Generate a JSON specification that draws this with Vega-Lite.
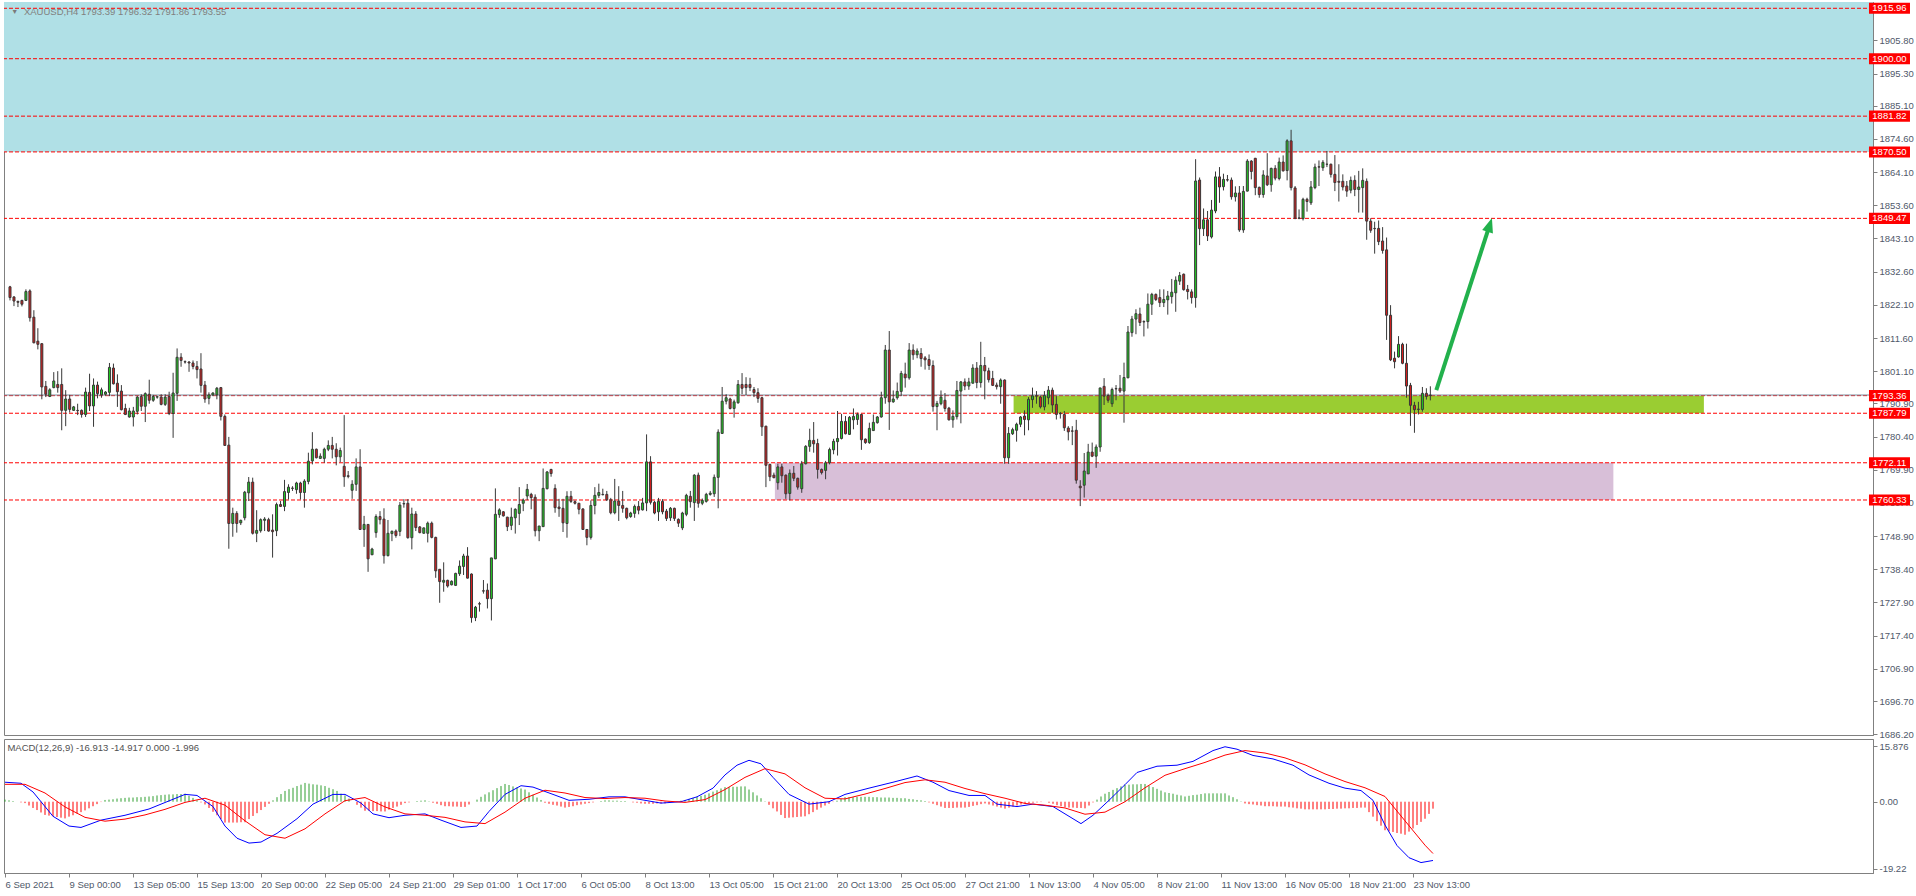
{
"$schema":"https://vega.github.io/schema/vega-lite/v6.json",
"background":"#ffffff",
"padding":{"left":2,"top":1,"right":0,"bottom":0},
"bounds":"flush",
"spacing":4,
"resolve":{"scale":{"x":"independent","y":"independent"}},
"config":{"font":"Liberation Sans","view":{"stroke":"#808080","strokeWidth":1},
"axis":{"labelFont":"Liberation Sans","labelFontSize":9.5,"labelColor":"#50596a","domainColor":"#808080","tickColor":"#808080","grid":false,"title":null,"tickSize":4,"labelPadding":2,"labelOverlap":false,"labelFlush":false},
"axisY":{"labelOverlap":false},"axisQuantitative":{"labelOverlap":false}},
"datasets":{
"levels":[{"p":1915.96},{"p":1900.00},{"p":1881.82},{"p":1870.50},{"p":1849.47},{"p":1793.36},{"p":1787.79},{"p":1772.11},{"p":1760.33}],
"mline":[{"i":0,"m":5.6},{"i":4,"m":5.3},{"i":7,"m":2.8},{"i":12,"m":-4.2},{"i":16,"m":-7.0},{"i":19,"m":-7.4},{"i":24,"m":-5.3},{"i":30,"m":-3.9},{"i":36,"m":-2.1},{"i":42,"m":0.7},{"i":45,"m":2.1},{"i":48,"m":1.8},{"i":52,"m":-1.4},{"i":55,"m":-7.0},{"i":58,"m":-10.5},{"i":61,"m":-11.9},{"i":64,"m":-11.6},{"i":68,"m":-9.1},{"i":73,"m":-4.9},{"i":77,"m":-0.7},{"i":82,"m":2.1},{"i":85,"m":2.1},{"i":89,"m":-0.4},{"i":92,"m":-3.5},{"i":96,"m":-4.6},{"i":100,"m":-3.9},{"i":105,"m":-3.5},{"i":109,"m":-5.3},{"i":114,"m":-7.4},{"i":118,"m":-7.0},{"i":121,"m":-2.8},{"i":125,"m":2.1},{"i":129,"m":4.6},{"i":132,"m":4.2},{"i":137,"m":2.1},{"i":141,"m":0.4},{"i":146,"m":0.7},{"i":151,"m":1.4},{"i":155,"m":1.4},{"i":160,"m":0.4},{"i":164,"m":-0.4},{"i":169,"m":0.0},{"i":173,"m":1.4},{"i":177,"m":3.9},{"i":180,"m":7.7},{"i":183,"m":10.5},{"i":186,"m":11.9},{"i":189,"m":10.9},{"i":192,"m":7.0},{"i":196,"m":2.1},{"i":201,"m":-0.7},{"i":206,"m":0.0},{"i":210,"m":2.1},{"i":216,"m":3.9},{"i":222,"m":5.6},{"i":228,"m":7.4},{"i":232,"m":5.6},{"i":236,"m":3.2},{"i":241,"m":1.8},{"i":245,"m":1.8},{"i":248,"m":-0.7},{"i":253,"m":-1.4},{"i":257,"m":-0.7},{"i":262,"m":-1.4},{"i":266,"m":-4.2},{"i":269,"m":-6.3},{"i":272,"m":-3.9},{"i":276,"m":0.4},{"i":280,"m":4.9},{"i":283,"m":8.4},{"i":288,"m":10.2},{"i":293,"m":10.5},{"i":297,"m":11.6},{"i":302,"m":14.7},{"i":305,"m":15.8},{"i":308,"m":15.1},{"i":312,"m":13.3},{"i":317,"m":12.3},{"i":322,"m":10.5},{"i":326,"m":7.7},{"i":331,"m":5.3},{"i":335,"m":3.9},{"i":339,"m":3.2},{"i":342,"m":0.4},{"i":345,"m":-6.7},{"i":348,"m":-12.6},{"i":351,"m":-16.1},{"i":354,"m":-17.5},{"i":357,"m":-16.9}],
"sline":[{"i":0,"s":5.0},{"i":5,"s":5.0},{"i":10,"s":2.5},{"i":15,"s":-1.5},{"i":20,"s":-4.5},{"i":25,"s":-5.6},{"i":30,"s":-5.0},{"i":35,"s":-3.8},{"i":40,"s":-2.2},{"i":45,"s":-0.2},{"i":50,"s":1.0},{"i":55,"s":-1.0},{"i":60,"s":-5.5},{"i":65,"s":-9.5},{"i":70,"s":-10.5},{"i":75,"s":-7.8},{"i":80,"s":-3.5},{"i":85,"s":0.3},{"i":90,"s":1.2},{"i":95,"s":-1.5},{"i":100,"s":-3.5},{"i":105,"s":-3.9},{"i":110,"s":-4.5},{"i":115,"s":-5.8},{"i":120,"s":-6.3},{"i":125,"s":-3.0},{"i":130,"s":1.0},{"i":135,"s":3.3},{"i":140,"s":2.5},{"i":145,"s":1.2},{"i":150,"s":0.9},{"i":155,"s":1.2},{"i":160,"s":1.0},{"i":165,"s":0.2},{"i":170,"s":-0.2},{"i":175,"s":0.6},{"i":180,"s":3.5},{"i":185,"s":7.0},{"i":190,"s":9.5},{"i":195,"s":8.0},{"i":200,"s":4.0},{"i":205,"s":1.0},{"i":210,"s":0.8},{"i":215,"s":2.2},{"i":220,"s":3.8},{"i":225,"s":5.5},{"i":230,"s":6.3},{"i":235,"s":5.6},{"i":240,"s":3.8},{"i":245,"s":2.3},{"i":250,"s":1.0},{"i":255,"s":-0.5},{"i":260,"s":-1.0},{"i":265,"s":-1.8},{"i":270,"s":-3.6},{"i":275,"s":-3.0},{"i":280,"s":0.0},{"i":285,"s":4.0},{"i":290,"s":7.6},{"i":295,"s":9.5},{"i":300,"s":11.3},{"i":305,"s":13.4},{"i":310,"s":14.7},{"i":315,"s":14.0},{"i":320,"s":12.6},{"i":325,"s":10.6},{"i":330,"s":8.0},{"i":335,"s":5.8},{"i":340,"s":4.0},{"i":345,"s":1.5},{"i":350,"s":-5.5},{"i":355,"s":-12.5},{"i":357,"s":-14.9}],
"bars":[
{"i":0,"o":1827.8,"h":1828.1,"l":1823.5,"c":1824.4,"d":0.6},
{"i":1,"o":1824.6,"h":1824.8,"l":1821.7,"c":1823.3,"d":0.4},
{"i":2,"o":1823.2,"h":1823.4,"l":1821.4,"c":1822.9,"d":0.2},
{"i":3,"o":1823.5,"h":1823.7,"l":1821.6,"c":1822.3,"d":0.0},
{"i":4,"o":1823.5,"h":1827.0,"l":1823.3,"c":1826.3,"d":-0.2},
{"i":5,"o":1826.5,"h":1827.0,"l":1816.8,"c":1818.0,"d":-0.4},
{"i":6,"o":1818.2,"h":1820.4,"l":1809.9,"c":1810.1,"d":-1.1},
{"i":7,"o":1810.6,"h":1814.7,"l":1808.0,"c":1809.6,"d":-1.8},
{"i":8,"o":1809.8,"h":1810.0,"l":1792.2,"c":1796.1,"d":-2.4},
{"i":9,"o":1796.3,"h":1798.0,"l":1792.9,"c":1793.8,"d":-3.1},
{"i":10,"o":1793.1,"h":1795.7,"l":1792.9,"c":1795.2,"d":-3.8},
{"i":11,"o":1795.9,"h":1800.8,"l":1795.7,"c":1798.0,"d":-4.0},
{"i":12,"o":1796.9,"h":1801.1,"l":1794.3,"c":1795.9,"d":-4.2},
{"i":13,"o":1796.9,"h":1802.0,"l":1782.4,"c":1788.7,"d":-4.4},
{"i":14,"o":1788.7,"h":1795.1,"l":1783.7,"c":1792.3,"d":-4.6},
{"i":15,"o":1792.3,"h":1793.6,"l":1788.0,"c":1789.0,"d":-4.8},
{"i":16,"o":1788.7,"h":1790.1,"l":1788.5,"c":1789.8,"d":-4.3},
{"i":17,"o":1788.7,"h":1790.8,"l":1787.2,"c":1788.6,"d":-3.9},
{"i":18,"o":1788.7,"h":1789.0,"l":1786.4,"c":1787.4,"d":-3.4},
{"i":19,"o":1787.4,"h":1795.9,"l":1786.6,"c":1794.5,"d":-3.0},
{"i":20,"o":1794.4,"h":1800.3,"l":1788.5,"c":1790.1,"d":-2.5},
{"i":21,"o":1790.1,"h":1798.8,"l":1783.5,"c":1796.7,"d":-1.9},
{"i":22,"o":1796.7,"h":1797.8,"l":1792.5,"c":1794.0,"d":-1.3},
{"i":23,"o":1793.6,"h":1795.9,"l":1792.7,"c":1795.2,"d":-0.7},
{"i":24,"o":1793.8,"h":1794.8,"l":1793.4,"c":1794.5,"d":-0.1},
{"i":25,"o":1794.4,"h":1803.7,"l":1793.2,"c":1802.3,"d":0.5},
{"i":26,"o":1802.1,"h":1803.5,"l":1796.9,"c":1797.1,"d":0.6},
{"i":27,"o":1797.3,"h":1800.1,"l":1789.8,"c":1794.6,"d":0.7},
{"i":28,"o":1794.8,"h":1796.7,"l":1788.7,"c":1788.9,"d":0.9},
{"i":29,"o":1789.3,"h":1790.8,"l":1787.2,"c":1787.4,"d":1.0},
{"i":30,"o":1786.6,"h":1789.5,"l":1786.4,"c":1788.5,"d":1.1},
{"i":31,"o":1786.6,"h":1789.8,"l":1783.6,"c":1788.5,"d":1.2},
{"i":32,"o":1788.4,"h":1793.3,"l":1787.4,"c":1792.9,"d":1.2},
{"i":33,"o":1793.1,"h":1793.8,"l":1788.5,"c":1790.0,"d":1.3},
{"i":34,"o":1790.0,"h":1794.4,"l":1785.0,"c":1794.0,"d":1.3},
{"i":35,"o":1793.8,"h":1798.4,"l":1790.8,"c":1791.9,"d":1.4},
{"i":36,"o":1791.9,"h":1793.6,"l":1791.4,"c":1793.1,"d":1.5},
{"i":37,"o":1792.9,"h":1793.3,"l":1792.4,"c":1793.0,"d":1.6},
{"i":38,"o":1792.9,"h":1793.8,"l":1790.3,"c":1790.6,"d":1.8},
{"i":39,"o":1790.6,"h":1793.8,"l":1790.1,"c":1792.9,"d":1.9},
{"i":40,"o":1793.1,"h":1794.6,"l":1787.2,"c":1787.7,"d":2.0},
{"i":41,"o":1787.7,"h":1800.6,"l":1780.0,"c":1794.2,"d":2.1},
{"i":42,"o":1794.1,"h":1808.3,"l":1791.7,"c":1805.5,"d":2.1},
{"i":43,"o":1805.5,"h":1806.8,"l":1802.5,"c":1804.5,"d":2.2},
{"i":44,"o":1804.1,"h":1804.5,"l":1803.5,"c":1804.0,"d":2.2},
{"i":45,"o":1804.0,"h":1804.3,"l":1800.9,"c":1803.7,"d":2.3},
{"i":46,"o":1803.7,"h":1804.5,"l":1801.7,"c":1802.6,"d":1.7},
{"i":47,"o":1802.6,"h":1804.3,"l":1798.8,"c":1801.6,"d":1.1},
{"i":48,"o":1801.8,"h":1806.8,"l":1794.3,"c":1796.6,"d":0.4},
{"i":49,"o":1796.7,"h":1798.0,"l":1791.1,"c":1792.3,"d":-0.2},
{"i":50,"o":1792.5,"h":1794.4,"l":1790.6,"c":1793.6,"d":-0.8},
{"i":51,"o":1793.6,"h":1794.4,"l":1793.2,"c":1794.2,"d":-1.8},
{"i":52,"o":1793.6,"h":1796.1,"l":1792.2,"c":1795.7,"d":-2.9},
{"i":53,"o":1795.9,"h":1796.1,"l":1785.5,"c":1786.8,"d":-3.9},
{"i":54,"o":1786.8,"h":1787.4,"l":1777.5,"c":1777.6,"d":-5.0},
{"i":55,"o":1777.7,"h":1780.3,"l":1744.9,"c":1752.9,"d":-6.0},
{"i":56,"o":1752.9,"h":1757.9,"l":1748.7,"c":1756.1,"d":-6.0},
{"i":57,"o":1756.1,"h":1756.8,"l":1750.0,"c":1752.9,"d":-6.0},
{"i":58,"o":1753.1,"h":1754.1,"l":1752.4,"c":1753.9,"d":-6.0},
{"i":59,"o":1754.7,"h":1763.2,"l":1753.9,"c":1762.8,"d":-5.9},
{"i":60,"o":1762.6,"h":1767.6,"l":1760.0,"c":1766.0,"d":-5.9},
{"i":61,"o":1766.0,"h":1767.4,"l":1749.4,"c":1749.8,"d":-5.0},
{"i":62,"o":1749.8,"h":1757.1,"l":1747.0,"c":1750.7,"d":-4.1},
{"i":63,"o":1750.6,"h":1754.5,"l":1750.0,"c":1754.1,"d":-3.3},
{"i":64,"o":1753.9,"h":1754.9,"l":1750.5,"c":1754.3,"d":-2.4},
{"i":65,"o":1754.1,"h":1754.7,"l":1750.3,"c":1750.5,"d":-1.5},
{"i":66,"o":1750.8,"h":1755.8,"l":1742.1,"c":1750.3,"d":-0.6},
{"i":67,"o":1750.6,"h":1759.5,"l":1748.9,"c":1758.9,"d":0.4},
{"i":68,"o":1758.9,"h":1760.0,"l":1758.1,"c":1758.3,"d":1.3},
{"i":69,"o":1758.3,"h":1766.7,"l":1756.8,"c":1763.0,"d":2.2},
{"i":70,"o":1762.7,"h":1765.3,"l":1760.5,"c":1764.4,"d":3.1},
{"i":71,"o":1764.0,"h":1764.7,"l":1763.2,"c":1764.1,"d":3.6},
{"i":72,"o":1763.6,"h":1766.1,"l":1762.3,"c":1765.7,"d":4.0},
{"i":73,"o":1765.7,"h":1766.1,"l":1760.5,"c":1762.7,"d":4.5},
{"i":74,"o":1762.7,"h":1766.9,"l":1757.9,"c":1766.3,"d":4.9},
{"i":75,"o":1766.2,"h":1775.3,"l":1765.3,"c":1772.6,"d":5.4},
{"i":76,"o":1772.7,"h":1781.8,"l":1771.6,"c":1776.4,"d":5.2},
{"i":77,"o":1776.4,"h":1776.6,"l":1773.5,"c":1773.7,"d":5.0},
{"i":78,"o":1773.5,"h":1775.1,"l":1773.4,"c":1774.2,"d":4.9},
{"i":79,"o":1773.5,"h":1776.9,"l":1772.1,"c":1776.4,"d":4.7},
{"i":80,"o":1776.4,"h":1779.2,"l":1775.8,"c":1777.6,"d":4.5},
{"i":81,"o":1777.6,"h":1780.3,"l":1773.5,"c":1776.4,"d":4.0},
{"i":82,"o":1776.4,"h":1778.3,"l":1771.3,"c":1774.0,"d":3.6},
{"i":83,"o":1774.0,"h":1776.9,"l":1772.3,"c":1776.0,"d":3.1},
{"i":84,"o":1771.0,"h":1787.2,"l":1764.5,"c":1767.7,"d":2.3},
{"i":85,"o":1768.0,"h":1769.5,"l":1767.2,"c":1767.8,"d":1.8},
{"i":86,"o":1763.4,"h":1766.6,"l":1760.7,"c":1765.3,"d":0.9},
{"i":87,"o":1765.3,"h":1773.5,"l":1763.2,"c":1770.8,"d":0.0},
{"i":88,"o":1770.8,"h":1776.4,"l":1750.9,"c":1751.0,"d":-0.9},
{"i":89,"o":1751.0,"h":1755.3,"l":1745.5,"c":1752.6,"d":-1.7},
{"i":90,"o":1752.6,"h":1752.7,"l":1737.6,"c":1741.7,"d":-2.6},
{"i":91,"o":1743.0,"h":1745.2,"l":1742.9,"c":1744.8,"d":-2.6},
{"i":92,"o":1750.0,"h":1755.8,"l":1748.4,"c":1755.1,"d":-2.7},
{"i":93,"o":1755.1,"h":1756.8,"l":1752.6,"c":1754.1,"d":-2.7},
{"i":94,"o":1754.3,"h":1757.7,"l":1740.2,"c":1742.7,"d":-2.8},
{"i":95,"o":1742.7,"h":1754.0,"l":1742.5,"c":1749.8,"d":-2.8},
{"i":96,"o":1749.7,"h":1750.7,"l":1747.3,"c":1750.4,"d":-2.3},
{"i":97,"o":1750.5,"h":1751.0,"l":1748.4,"c":1749.1,"d":-1.8},
{"i":98,"o":1750.4,"h":1759.7,"l":1748.9,"c":1758.7,"d":-1.4},
{"i":99,"o":1759.1,"h":1760.6,"l":1757.9,"c":1759.2,"d":-0.9},
{"i":100,"o":1759.3,"h":1760.6,"l":1748.1,"c":1748.4,"d":-0.4},
{"i":101,"o":1748.4,"h":1757.9,"l":1744.7,"c":1755.9,"d":-0.2},
{"i":102,"o":1755.9,"h":1756.8,"l":1750.5,"c":1751.6,"d":0.0},
{"i":103,"o":1751.8,"h":1752.1,"l":1749.8,"c":1750.0,"d":0.2},
{"i":104,"o":1749.8,"h":1751.6,"l":1749.7,"c":1751.5,"d":0.3},
{"i":105,"o":1749.8,"h":1753.5,"l":1746.9,"c":1753.0,"d":0.4},
{"i":106,"o":1753.0,"h":1753.5,"l":1748.2,"c":1748.5,"d":0.1},
{"i":107,"o":1748.5,"h":1748.7,"l":1735.7,"c":1737.9,"d":-0.3},
{"i":108,"o":1738.4,"h":1738.4,"l":1727.8,"c":1734.5,"d":-0.6},
{"i":109,"o":1734.3,"h":1740.6,"l":1731.3,"c":1734.9,"d":-1.0},
{"i":110,"o":1734.9,"h":1735.1,"l":1732.6,"c":1733.1,"d":-1.3},
{"i":111,"o":1733.5,"h":1734.9,"l":1733.3,"c":1734.6,"d":-1.3},
{"i":112,"o":1733.3,"h":1737.3,"l":1733.1,"c":1737.1,"d":-1.4},
{"i":113,"o":1737.0,"h":1741.2,"l":1736.3,"c":1739.4,"d":-1.4},
{"i":114,"o":1739.3,"h":1743.3,"l":1736.6,"c":1742.6,"d":-1.5},
{"i":115,"o":1742.6,"h":1745.4,"l":1735.5,"c":1735.6,"d":-1.5},
{"i":116,"o":1736.9,"h":1737.1,"l":1721.5,"c":1723.1,"d":-0.8},
{"i":117,"o":1723.1,"h":1726.8,"l":1722.0,"c":1726.4,"d":0.0},
{"i":118,"o":1727.5,"h":1728.1,"l":1725.0,"c":1727.4,"d":0.6},
{"i":119,"o":1731.6,"h":1735.0,"l":1730.7,"c":1731.5,"d":1.4},
{"i":120,"o":1731.8,"h":1733.9,"l":1726.0,"c":1729.1,"d":2.1},
{"i":121,"o":1729.1,"h":1742.0,"l":1722.2,"c":1742.0,"d":2.7},
{"i":122,"o":1741.7,"h":1764.0,"l":1741.6,"c":1755.8,"d":3.3},
{"i":123,"o":1755.7,"h":1757.7,"l":1754.7,"c":1757.2,"d":3.9},
{"i":124,"o":1756.6,"h":1756.8,"l":1755.1,"c":1755.3,"d":4.5},
{"i":125,"o":1754.9,"h":1755.0,"l":1750.5,"c":1751.9,"d":5.1},
{"i":126,"o":1752.3,"h":1757.9,"l":1750.8,"c":1754.9,"d":4.8},
{"i":127,"o":1754.7,"h":1757.7,"l":1749.7,"c":1757.4,"d":4.4},
{"i":128,"o":1756.1,"h":1764.4,"l":1752.4,"c":1758.9,"d":4.1},
{"i":129,"o":1759.3,"h":1760.8,"l":1756.8,"c":1760.3,"d":3.8},
{"i":130,"o":1761.6,"h":1765.4,"l":1760.3,"c":1763.7,"d":3.5},
{"i":131,"o":1762.1,"h":1762.6,"l":1757.4,"c":1761.1,"d":2.7},
{"i":132,"o":1761.2,"h":1762.1,"l":1748.8,"c":1750.6,"d":2.0},
{"i":133,"o":1750.6,"h":1752.1,"l":1747.3,"c":1752.1,"d":1.2},
{"i":134,"o":1751.9,"h":1770.3,"l":1751.8,"c":1764.0,"d":0.5},
{"i":135,"o":1763.9,"h":1769.5,"l":1763.7,"c":1769.2,"d":-0.3},
{"i":136,"o":1770.0,"h":1770.2,"l":1767.7,"c":1768.7,"d":-0.6},
{"i":137,"o":1764.0,"h":1765.3,"l":1756.3,"c":1757.9,"d":-0.9},
{"i":138,"o":1758.1,"h":1760.7,"l":1755.0,"c":1757.6,"d":-1.1},
{"i":139,"o":1757.7,"h":1760.7,"l":1750.2,"c":1753.1,"d":-1.4},
{"i":140,"o":1752.9,"h":1763.1,"l":1748.4,"c":1761.5,"d":-1.7},
{"i":141,"o":1761.5,"h":1763.2,"l":1759.4,"c":1759.9,"d":-1.5},
{"i":142,"o":1759.8,"h":1760.2,"l":1758.9,"c":1759.3,"d":-1.3},
{"i":143,"o":1759.3,"h":1759.4,"l":1755.8,"c":1757.4,"d":-1.0},
{"i":144,"o":1757.5,"h":1757.7,"l":1750.9,"c":1751.0,"d":-0.8},
{"i":145,"o":1751.0,"h":1751.1,"l":1746.0,"c":1748.5,"d":-0.6},
{"i":146,"o":1748.5,"h":1760.2,"l":1747.8,"c":1758.6,"d":-0.4},
{"i":147,"o":1758.6,"h":1764.4,"l":1755.8,"c":1761.8,"d":-0.2},
{"i":148,"o":1761.8,"h":1765.5,"l":1761.0,"c":1762.7,"d":0.0},
{"i":149,"o":1762.1,"h":1763.9,"l":1761.8,"c":1762.0,"d":0.2},
{"i":150,"o":1762.1,"h":1763.2,"l":1760.0,"c":1760.4,"d":0.4},
{"i":151,"o":1760.4,"h":1761.0,"l":1755.8,"c":1756.3,"d":0.4},
{"i":152,"o":1756.3,"h":1767.0,"l":1755.8,"c":1760.0,"d":0.3},
{"i":153,"o":1760.0,"h":1764.7,"l":1753.7,"c":1758.6,"d":0.3},
{"i":154,"o":1758.6,"h":1763.2,"l":1756.3,"c":1757.7,"d":0.2},
{"i":155,"o":1757.7,"h":1757.9,"l":1754.2,"c":1754.7,"d":0.2},
{"i":156,"o":1755.1,"h":1756.6,"l":1754.7,"c":1756.2,"d":0.0},
{"i":157,"o":1756.1,"h":1758.9,"l":1754.7,"c":1758.3,"d":-0.2},
{"i":158,"o":1758.3,"h":1760.0,"l":1755.8,"c":1757.1,"d":-0.3},
{"i":159,"o":1757.2,"h":1761.0,"l":1757.0,"c":1759.4,"d":-0.5},
{"i":160,"o":1759.4,"h":1781.1,"l":1756.8,"c":1772.4,"d":-0.6},
{"i":161,"o":1772.4,"h":1774.2,"l":1758.9,"c":1759.6,"d":-0.6},
{"i":162,"o":1759.6,"h":1760.0,"l":1755.8,"c":1756.2,"d":-0.6},
{"i":163,"o":1756.6,"h":1761.0,"l":1753.7,"c":1759.9,"d":-0.5},
{"i":164,"o":1759.9,"h":1760.6,"l":1755.8,"c":1756.6,"d":-0.5},
{"i":165,"o":1756.8,"h":1757.5,"l":1753.7,"c":1754.5,"d":-0.5},
{"i":166,"o":1754.7,"h":1758.1,"l":1753.7,"c":1757.7,"d":-0.3},
{"i":167,"o":1757.7,"h":1757.9,"l":1753.7,"c":1754.5,"d":-0.1},
{"i":168,"o":1754.2,"h":1754.5,"l":1751.8,"c":1753.0,"d":0.1},
{"i":169,"o":1751.5,"h":1756.6,"l":1750.8,"c":1756.2,"d":0.3},
{"i":170,"o":1755.8,"h":1762.3,"l":1755.2,"c":1761.8,"d":0.5},
{"i":171,"o":1761.5,"h":1763.2,"l":1757.9,"c":1759.8,"d":0.8},
{"i":172,"o":1759.5,"h":1768.5,"l":1753.7,"c":1768.2,"d":1.1},
{"i":173,"o":1768.2,"h":1769.0,"l":1757.9,"c":1759.3,"d":1.4},
{"i":174,"o":1759.3,"h":1760.8,"l":1758.7,"c":1760.2,"d":1.7},
{"i":175,"o":1759.9,"h":1762.6,"l":1759.5,"c":1762.1,"d":2.0},
{"i":176,"o":1762.1,"h":1763.2,"l":1761.7,"c":1762.5,"d":2.4},
{"i":177,"o":1762.3,"h":1768.4,"l":1761.3,"c":1767.5,"d":2.9},
{"i":178,"o":1767.5,"h":1782.7,"l":1757.7,"c":1781.8,"d":3.3},
{"i":179,"o":1781.4,"h":1796.1,"l":1781.3,"c":1791.6,"d":3.8},
{"i":180,"o":1791.6,"h":1793.8,"l":1790.6,"c":1792.7,"d":4.2},
{"i":181,"o":1792.3,"h":1792.7,"l":1789.0,"c":1789.3,"d":4.2},
{"i":182,"o":1789.3,"h":1792.1,"l":1786.4,"c":1791.4,"d":4.3},
{"i":183,"o":1791.1,"h":1798.3,"l":1790.8,"c":1796.9,"d":4.3},
{"i":184,"o":1796.9,"h":1800.5,"l":1793.8,"c":1795.7,"d":4.4},
{"i":185,"o":1796.9,"h":1799.2,"l":1793.5,"c":1795.9,"d":4.4},
{"i":186,"o":1796.9,"h":1799.0,"l":1794.8,"c":1795.9,"d":3.5},
{"i":187,"o":1795.3,"h":1796.1,"l":1792.9,"c":1794.3,"d":2.7},
{"i":188,"o":1794.3,"h":1795.7,"l":1791.1,"c":1792.5,"d":1.8},
{"i":189,"o":1792.7,"h":1793.0,"l":1780.6,"c":1783.5,"d":1.0},
{"i":190,"o":1783.7,"h":1783.8,"l":1764.4,"c":1771.3,"d":0.1},
{"i":191,"o":1771.6,"h":1771.8,"l":1766.3,"c":1767.7,"d":-0.9},
{"i":192,"o":1768.2,"h":1769.0,"l":1767.2,"c":1767.4,"d":-1.9},
{"i":193,"o":1765.8,"h":1771.8,"l":1763.6,"c":1770.8,"d":-2.8},
{"i":194,"o":1770.8,"h":1771.8,"l":1765.8,"c":1768.0,"d":-3.8},
{"i":195,"o":1768.2,"h":1768.4,"l":1760.7,"c":1762.3,"d":-4.7},
{"i":196,"o":1762.4,"h":1770.0,"l":1760.2,"c":1768.8,"d":-4.6},
{"i":197,"o":1768.8,"h":1771.1,"l":1766.3,"c":1767.2,"d":-4.5},
{"i":198,"o":1767.2,"h":1767.4,"l":1763.6,"c":1764.4,"d":-4.4},
{"i":199,"o":1763.9,"h":1772.7,"l":1762.6,"c":1771.8,"d":-4.3},
{"i":200,"o":1771.8,"h":1777.7,"l":1771.6,"c":1777.3,"d":-4.2},
{"i":201,"o":1777.3,"h":1782.9,"l":1775.6,"c":1779.2,"d":-3.6},
{"i":202,"o":1779.2,"h":1785.0,"l":1775.3,"c":1778.1,"d":-3.0},
{"i":203,"o":1778.2,"h":1779.7,"l":1767.1,"c":1770.0,"d":-2.3},
{"i":204,"o":1770.0,"h":1770.3,"l":1768.4,"c":1769.0,"d":-1.7},
{"i":205,"o":1769.7,"h":1772.7,"l":1766.9,"c":1772.1,"d":-1.1},
{"i":206,"o":1772.1,"h":1776.9,"l":1771.6,"c":1776.3,"d":-0.6},
{"i":207,"o":1776.2,"h":1779.7,"l":1774.8,"c":1778.9,"d":-0.1},
{"i":208,"o":1778.8,"h":1788.5,"l":1774.4,"c":1779.8,"d":0.3},
{"i":209,"o":1779.8,"h":1787.6,"l":1779.5,"c":1785.2,"d":0.8},
{"i":210,"o":1785.2,"h":1786.9,"l":1781.1,"c":1781.3,"d":1.3},
{"i":211,"o":1781.1,"h":1786.9,"l":1780.9,"c":1786.5,"d":1.3},
{"i":212,"o":1785.7,"h":1789.3,"l":1782.7,"c":1786.8,"d":1.3},
{"i":213,"o":1785.8,"h":1788.0,"l":1784.1,"c":1787.4,"d":1.4},
{"i":214,"o":1787.4,"h":1787.6,"l":1776.2,"c":1779.4,"d":1.4},
{"i":215,"o":1779.6,"h":1779.8,"l":1778.1,"c":1778.5,"d":1.4},
{"i":216,"o":1778.5,"h":1784.8,"l":1778.1,"c":1783.0,"d":1.4},
{"i":217,"o":1782.3,"h":1787.4,"l":1782.2,"c":1784.9,"d":1.3},
{"i":218,"o":1784.8,"h":1786.9,"l":1784.5,"c":1786.6,"d":1.3},
{"i":219,"o":1786.6,"h":1794.6,"l":1786.4,"c":1792.7,"d":1.2},
{"i":220,"o":1792.7,"h":1809.4,"l":1790.8,"c":1807.8,"d":1.2},
{"i":221,"o":1807.8,"h":1813.8,"l":1782.5,"c":1791.4,"d":1.2},
{"i":222,"o":1791.4,"h":1795.0,"l":1791.1,"c":1792.3,"d":1.1},
{"i":223,"o":1792.7,"h":1797.5,"l":1792.1,"c":1794.7,"d":1.1},
{"i":224,"o":1794.7,"h":1801.2,"l":1793.2,"c":1800.4,"d":1.0},
{"i":225,"o":1800.2,"h":1803.8,"l":1795.9,"c":1799.0,"d":1.0},
{"i":226,"o":1799.0,"h":1810.0,"l":1798.4,"c":1807.8,"d":0.8},
{"i":227,"o":1807.8,"h":1809.6,"l":1804.7,"c":1806.3,"d":0.7},
{"i":228,"o":1806.3,"h":1808.3,"l":1805.2,"c":1807.5,"d":0.5},
{"i":229,"o":1806.7,"h":1808.4,"l":1802.5,"c":1805.1,"d":0.4},
{"i":230,"o":1805.3,"h":1805.9,"l":1801.6,"c":1804.7,"d":0.2},
{"i":231,"o":1804.8,"h":1806.4,"l":1801.5,"c":1802.9,"d":-0.2},
{"i":232,"o":1802.9,"h":1804.5,"l":1788.3,"c":1789.9,"d":-0.6},
{"i":233,"o":1789.9,"h":1791.7,"l":1782.4,"c":1790.9,"d":-1.0},
{"i":234,"o":1790.8,"h":1795.0,"l":1790.3,"c":1792.9,"d":-1.4},
{"i":235,"o":1791.9,"h":1794.2,"l":1788.3,"c":1789.3,"d":-1.8},
{"i":236,"o":1789.4,"h":1789.8,"l":1785.5,"c":1785.7,"d":-1.8},
{"i":237,"o":1785.7,"h":1788.7,"l":1783.2,"c":1786.8,"d":-1.8},
{"i":238,"o":1786.7,"h":1798.0,"l":1785.8,"c":1795.0,"d":-1.7},
{"i":239,"o":1794.8,"h":1798.0,"l":1784.6,"c":1797.7,"d":-1.7},
{"i":240,"o":1797.7,"h":1798.8,"l":1795.1,"c":1796.4,"d":-1.7},
{"i":241,"o":1796.4,"h":1799.0,"l":1795.2,"c":1797.7,"d":-1.5},
{"i":242,"o":1797.3,"h":1803.3,"l":1797.2,"c":1802.1,"d":-1.2},
{"i":243,"o":1802.1,"h":1804.0,"l":1795.7,"c":1797.5,"d":-1.0},
{"i":244,"o":1797.5,"h":1810.4,"l":1795.9,"c":1802.9,"d":-0.7},
{"i":245,"o":1802.9,"h":1805.6,"l":1792.2,"c":1801.2,"d":-0.5},
{"i":246,"o":1801.2,"h":1802.2,"l":1797.5,"c":1798.4,"d":-0.8},
{"i":247,"o":1798.8,"h":1801.2,"l":1796.4,"c":1796.6,"d":-1.1},
{"i":248,"o":1796.7,"h":1797.5,"l":1795.3,"c":1796.2,"d":-1.4},
{"i":249,"o":1796.2,"h":1798.8,"l":1790.8,"c":1798.3,"d":-1.7},
{"i":250,"o":1798.3,"h":1798.5,"l":1771.8,"c":1773.7,"d":-2.0},
{"i":251,"o":1773.7,"h":1783.4,"l":1771.8,"c":1781.4,"d":-1.7},
{"i":252,"o":1781.3,"h":1783.2,"l":1780.9,"c":1782.6,"d":-1.4},
{"i":253,"o":1782.4,"h":1784.8,"l":1778.8,"c":1784.3,"d":-1.1},
{"i":254,"o":1784.3,"h":1786.9,"l":1783.4,"c":1786.6,"d":-0.8},
{"i":255,"o":1786.9,"h":1788.7,"l":1780.8,"c":1785.8,"d":-0.5},
{"i":256,"o":1785.7,"h":1792.9,"l":1782.4,"c":1792.2,"d":-0.4},
{"i":257,"o":1792.1,"h":1795.9,"l":1789.5,"c":1793.3,"d":-0.3},
{"i":258,"o":1793.3,"h":1794.8,"l":1790.8,"c":1793.2,"d":-0.2},
{"i":259,"o":1792.9,"h":1793.4,"l":1789.3,"c":1789.8,"d":-0.1},
{"i":260,"o":1789.8,"h":1794.8,"l":1788.7,"c":1793.4,"d":0.0},
{"i":261,"o":1792.7,"h":1796.4,"l":1790.6,"c":1795.1,"d":-0.3},
{"i":262,"o":1795.1,"h":1795.9,"l":1788.0,"c":1790.4,"d":-0.6},
{"i":263,"o":1790.6,"h":1793.2,"l":1785.8,"c":1787.4,"d":-1.0},
{"i":264,"o":1787.7,"h":1788.2,"l":1786.1,"c":1787.6,"d":-1.3},
{"i":265,"o":1787.4,"h":1788.5,"l":1782.2,"c":1783.2,"d":-1.6},
{"i":266,"o":1783.1,"h":1783.7,"l":1779.2,"c":1781.9,"d":-1.7},
{"i":267,"o":1782.2,"h":1783.7,"l":1777.7,"c":1782.1,"d":-1.7},
{"i":268,"o":1782.4,"h":1785.7,"l":1765.5,"c":1766.6,"d":-1.8},
{"i":269,"o":1764.7,"h":1766.6,"l":1758.4,"c":1764.2,"d":-1.8},
{"i":270,"o":1765.0,"h":1775.2,"l":1761.1,"c":1769.5,"d":-1.9},
{"i":271,"o":1768.6,"h":1778.1,"l":1768.6,"c":1775.5,"d":-1.1},
{"i":272,"o":1775.5,"h":1778.5,"l":1773.9,"c":1774.2,"d":-0.2},
{"i":273,"o":1774.2,"h":1777.9,"l":1770.5,"c":1777.1,"d":0.6},
{"i":274,"o":1777.1,"h":1795.8,"l":1775.6,"c":1795.8,"d":1.5},
{"i":275,"o":1796.3,"h":1798.9,"l":1790.4,"c":1793.2,"d":2.3},
{"i":276,"o":1793.4,"h":1794.0,"l":1791.1,"c":1791.9,"d":2.8},
{"i":277,"o":1790.8,"h":1795.9,"l":1789.8,"c":1795.3,"d":3.4},
{"i":278,"o":1795.5,"h":1796.7,"l":1791.9,"c":1795.6,"d":3.9},
{"i":279,"o":1795.7,"h":1799.9,"l":1794.2,"c":1794.8,"d":4.4},
{"i":280,"o":1794.8,"h":1803.8,"l":1784.8,"c":1799.1,"d":4.9},
{"i":281,"o":1799.0,"h":1815.4,"l":1798.9,"c":1813.5,"d":4.9},
{"i":282,"o":1813.3,"h":1818.6,"l":1812.0,"c":1817.6,"d":5.0},
{"i":283,"o":1817.6,"h":1820.7,"l":1812.8,"c":1819.3,"d":5.0},
{"i":284,"o":1819.2,"h":1821.2,"l":1815.4,"c":1816.5,"d":5.1},
{"i":285,"o":1816.8,"h":1817.2,"l":1812.1,"c":1816.7,"d":5.1},
{"i":286,"o":1816.8,"h":1825.7,"l":1814.6,"c":1822.3,"d":4.6},
{"i":287,"o":1822.3,"h":1825.9,"l":1818.9,"c":1825.4,"d":4.2},
{"i":288,"o":1825.4,"h":1825.7,"l":1823.3,"c":1823.8,"d":3.7},
{"i":289,"o":1824.4,"h":1827.0,"l":1821.4,"c":1822.8,"d":3.2},
{"i":290,"o":1822.8,"h":1827.0,"l":1821.4,"c":1823.8,"d":2.7},
{"i":291,"o":1823.7,"h":1826.5,"l":1819.0,"c":1824.9,"d":2.5},
{"i":292,"o":1824.7,"h":1830.3,"l":1822.5,"c":1826.1,"d":2.3},
{"i":293,"o":1825.9,"h":1831.1,"l":1819.9,"c":1829.9,"d":2.0},
{"i":294,"o":1829.6,"h":1832.5,"l":1828.4,"c":1831.4,"d":1.8},
{"i":295,"o":1831.8,"h":1832.0,"l":1826.6,"c":1826.9,"d":1.5},
{"i":296,"o":1827.0,"h":1828.4,"l":1823.8,"c":1826.3,"d":1.7},
{"i":297,"o":1826.2,"h":1827.0,"l":1822.5,"c":1824.4,"d":1.9},
{"i":298,"o":1824.4,"h":1868.2,"l":1821.2,"c":1861.3,"d":2.0},
{"i":299,"o":1861.6,"h":1862.4,"l":1841.0,"c":1846.2,"d":2.2},
{"i":300,"o":1846.2,"h":1852.6,"l":1843.9,"c":1849.0,"d":2.4},
{"i":301,"o":1849.0,"h":1851.8,"l":1842.3,"c":1843.9,"d":2.4},
{"i":302,"o":1843.6,"h":1855.3,"l":1843.1,"c":1852.1,"d":2.4},
{"i":303,"o":1851.8,"h":1864.3,"l":1851.1,"c":1862.6,"d":2.4},
{"i":304,"o":1862.6,"h":1865.7,"l":1854.4,"c":1859.4,"d":2.4},
{"i":305,"o":1859.5,"h":1863.6,"l":1858.3,"c":1861.8,"d":2.4},
{"i":306,"o":1861.7,"h":1863.2,"l":1861.1,"c":1861.6,"d":1.8},
{"i":307,"o":1861.6,"h":1862.4,"l":1855.4,"c":1856.3,"d":1.3},
{"i":308,"o":1856.3,"h":1859.6,"l":1854.8,"c":1857.5,"d":0.7},
{"i":309,"o":1857.5,"h":1859.7,"l":1845.2,"c":1845.8,"d":0.1},
{"i":310,"o":1845.8,"h":1859.7,"l":1844.9,"c":1858.0,"d":-0.5},
{"i":311,"o":1858.1,"h":1868.2,"l":1858.0,"c":1867.6,"d":-0.7},
{"i":312,"o":1867.6,"h":1867.9,"l":1861.8,"c":1864.3,"d":-0.8},
{"i":313,"o":1868.5,"h":1868.5,"l":1856.8,"c":1859.2,"d":-1.0},
{"i":314,"o":1859.3,"h":1859.5,"l":1856.0,"c":1857.0,"d":-1.1},
{"i":315,"o":1857.0,"h":1864.7,"l":1856.0,"c":1863.2,"d":-1.3},
{"i":316,"o":1862.9,"h":1870.1,"l":1859.7,"c":1860.1,"d":-1.3},
{"i":317,"o":1860.1,"h":1865.5,"l":1857.9,"c":1865.3,"d":-1.3},
{"i":318,"o":1865.3,"h":1866.3,"l":1861.5,"c":1862.2,"d":-1.4},
{"i":319,"o":1862.1,"h":1868.7,"l":1861.5,"c":1867.3,"d":-1.4},
{"i":320,"o":1867.3,"h":1869.4,"l":1864.3,"c":1864.5,"d":-1.4},
{"i":321,"o":1864.6,"h":1874.5,"l":1861.5,"c":1874.0,"d":-1.6},
{"i":322,"o":1874.0,"h":1877.5,"l":1858.3,"c":1859.2,"d":-1.7},
{"i":323,"o":1859.1,"h":1859.7,"l":1849.2,"c":1849.5,"d":-1.9},
{"i":324,"o":1849.6,"h":1852.3,"l":1849.2,"c":1849.5,"d":-2.0},
{"i":325,"o":1849.4,"h":1856.0,"l":1848.8,"c":1855.5,"d":-2.2},
{"i":326,"o":1855.5,"h":1856.0,"l":1851.6,"c":1854.8,"d":-2.2},
{"i":327,"o":1854.4,"h":1861.3,"l":1853.7,"c":1859.4,"d":-2.2},
{"i":328,"o":1859.2,"h":1866.8,"l":1858.7,"c":1865.7,"d":-2.2},
{"i":329,"o":1865.8,"h":1867.8,"l":1859.7,"c":1865.7,"d":-2.2},
{"i":330,"o":1865.5,"h":1867.9,"l":1864.5,"c":1867.2,"d":-2.2},
{"i":331,"o":1866.6,"h":1870.8,"l":1865.7,"c":1866.6,"d":-2.1},
{"i":332,"o":1866.6,"h":1866.8,"l":1862.4,"c":1863.4,"d":-2.1},
{"i":333,"o":1863.4,"h":1869.5,"l":1858.1,"c":1860.8,"d":-2.0},
{"i":334,"o":1861.2,"h":1866.6,"l":1854.8,"c":1860.9,"d":-2.0},
{"i":335,"o":1861.2,"h":1863.4,"l":1858.3,"c":1859.4,"d":-1.9},
{"i":336,"o":1859.7,"h":1861.3,"l":1856.3,"c":1858.1,"d":-1.9},
{"i":337,"o":1858.4,"h":1862.7,"l":1857.4,"c":1861.5,"d":-1.8},
{"i":338,"o":1861.5,"h":1863.1,"l":1856.5,"c":1858.6,"d":-1.8},
{"i":339,"o":1858.6,"h":1864.5,"l":1851.3,"c":1859.4,"d":-1.7},
{"i":340,"o":1859.2,"h":1865.3,"l":1851.3,"c":1861.5,"d":-1.7},
{"i":341,"o":1861.2,"h":1862.1,"l":1842.7,"c":1848.6,"d":-3.0},
{"i":342,"o":1848.6,"h":1849.5,"l":1844.9,"c":1845.7,"d":-4.3},
{"i":343,"o":1846.3,"h":1848.4,"l":1838.3,"c":1846.2,"d":-5.6},
{"i":344,"o":1846.3,"h":1848.8,"l":1841.0,"c":1842.1,"d":-6.9},
{"i":345,"o":1842.3,"h":1846.7,"l":1838.3,"c":1839.3,"d":-8.2},
{"i":346,"o":1839.5,"h":1843.4,"l":1811.0,"c":1818.8,"d":-8.5},
{"i":347,"o":1818.8,"h":1822.0,"l":1804.3,"c":1804.7,"d":-8.7},
{"i":348,"o":1805.2,"h":1807.3,"l":1802.0,"c":1804.1,"d":-9.0},
{"i":349,"o":1805.6,"h":1812.2,"l":1805.4,"c":1809.6,"d":-9.2},
{"i":350,"o":1809.6,"h":1810.1,"l":1803.3,"c":1803.6,"d":-9.5},
{"i":351,"o":1803.6,"h":1809.8,"l":1792.7,"c":1796.4,"d":-8.6},
{"i":352,"o":1796.6,"h":1797.4,"l":1783.8,"c":1790.3,"d":-7.7},
{"i":353,"o":1790.3,"h":1791.4,"l":1781.6,"c":1788.9,"d":-6.7},
{"i":354,"o":1789.1,"h":1791.4,"l":1787.4,"c":1789.0,"d":-5.8},
{"i":355,"o":1789.0,"h":1796.1,"l":1788.3,"c":1794.1,"d":-4.9},
{"i":356,"o":1794.1,"h":1795.7,"l":1792.1,"c":1793.1,"d":-3.5},
{"i":357,"o":1793.39,"h":1796.32,"l":1791.86,"c":1793.55,"d":-2.0}
]},
"vconcat":[
{"width":1869,"height":733,
"layer":[
{"data":{"values":[{"lo":1870.5,"hi":1917.95}]},"mark":{"type":"rect","fill":"#b0e0e6"},
"encoding":{"y":{"field":"hi","type":"quantitative","scale":{"domain":[1685.95,1917.95],"nice":false,"zero":false},"axis":{"orient":"right","values":[1905.8,1895.3,1885.1,1874.6,1864.1,1853.6,1843.1,1832.6,1822.1,1811.6,1801.1,1790.9,1780.4,1769.9,1759.4,1748.9,1738.4,1727.9,1717.4,1706.9,1696.7,1686.2],"format":".2f","labelOverlap":false,"labelBound":false}},"y2":{"field":"lo"}}},
{"data":{"values":[{"lo":1760.33,"hi":1772.11,"a":192.25,"b":403}]},"mark":{"type":"rect","fill":"#d8bfd8"},
"encoding":{"x":{"field":"a","type":"quantitative","scale":{"domain":[-0.25,467],"nice":false,"zero":false},"axis":null},"x2":{"field":"b"},"y":{"field":"hi","type":"quantitative","axis":{"orient":"right","values":[1905.8,1895.3,1885.1,1874.6,1864.1,1853.6,1843.1,1832.6,1822.1,1811.6,1801.1,1790.9,1780.4,1769.9,1759.4,1748.9,1738.4,1727.9,1717.4,1706.9,1696.7,1686.2],"format":".2f","labelOverlap":false,"labelBound":false}},"y2":{"field":"lo"}}},
{"data":{"values":[{"lo":1787.79,"hi":1793.36,"a":252.25,"b":425.75}]},"mark":{"type":"rect","fill":"#9acd32"},
"encoding":{"x":{"field":"a","type":"quantitative","axis":null},"x2":{"field":"b"},"y":{"field":"hi","type":"quantitative","axis":{"orient":"right","values":[1905.8,1895.3,1885.1,1874.6,1864.1,1853.6,1843.1,1832.6,1822.1,1811.6,1801.1,1790.9,1780.4,1769.9,1759.4,1748.9,1738.4,1727.9,1717.4,1706.9,1696.7,1686.2],"format":".2f","labelOverlap":false,"labelBound":false}},"y2":{"field":"lo"}}},
{"data":{"name":"levels"},"mark":{"type":"rule","stroke":"#ff0000","strokeWidth":1,"strokeDash":[4,2]},
"encoding":{"y":{"field":"p","type":"quantitative","axis":{"orient":"right","values":[1905.8,1895.3,1885.1,1874.6,1864.1,1853.6,1843.1,1832.6,1822.1,1811.6,1801.1,1790.9,1780.4,1769.9,1759.4,1748.9,1738.4,1727.9,1717.4,1706.9,1696.7,1686.2],"format":".2f","labelOverlap":false,"labelBound":false}}}},
{"data":{"values":[{"p":1793.55}]},"mark":{"type":"rule","stroke":"#778899","strokeWidth":1},
"encoding":{"y":{"field":"p","type":"quantitative","axis":{"orient":"right","values":[1905.8,1895.3,1885.1,1874.6,1864.1,1853.6,1843.1,1832.6,1822.1,1811.6,1801.1,1790.9,1780.4,1769.9,1759.4,1748.9,1738.4,1727.9,1717.4,1706.9,1696.7,1686.2],"format":".2f","labelOverlap":false,"labelBound":false}}}},
{"data":{"name":"bars"},"mark":{"type":"rule","stroke":"#383838","strokeWidth":1},
"encoding":{"x":{"field":"i","type":"quantitative","axis":null},"y":{"field":"l","type":"quantitative","axis":{"orient":"right","values":[1905.8,1895.3,1885.1,1874.6,1864.1,1853.6,1843.1,1832.6,1822.1,1811.6,1801.1,1790.9,1780.4,1769.9,1759.4,1748.9,1738.4,1727.9,1717.4,1706.9,1696.7,1686.2],"format":".2f","labelOverlap":false,"labelBound":false}},"y2":{"field":"h"}}},
{"data":{"name":"bars"},"mark":{"type":"bar","size":2,"stroke":"#383838","strokeWidth":1},
"encoding":{"x":{"field":"i","type":"quantitative","axis":null},"y":{"field":"o","type":"quantitative","axis":{"orient":"right","values":[1905.8,1895.3,1885.1,1874.6,1864.1,1853.6,1843.1,1832.6,1822.1,1811.6,1801.1,1790.9,1780.4,1769.9,1759.4,1748.9,1738.4,1727.9,1717.4,1706.9,1696.7,1686.2],"format":".2f","labelOverlap":false,"labelBound":false}},"y2":{"field":"c"},
"fill":{"condition":{"test":"datum.c >= datum.o","value":"#22cc22"},"value":"#d61f1f"}}},
{"data":{"values":[{"x1":358.5,"y1":1795.1,"x2":371.9,"y2":1847.3}]},"mark":{"type":"rule","stroke":"#22b14c","strokeWidth":4},
"encoding":{"x":{"field":"x1","type":"quantitative","axis":null},"y":{"field":"y1","type":"quantitative","axis":{"orient":"right","values":[1905.8,1895.3,1885.1,1874.6,1864.1,1853.6,1843.1,1832.6,1822.1,1811.6,1801.1,1790.9,1780.4,1769.9,1759.4,1748.9,1738.4,1727.9,1717.4,1706.9,1696.7,1686.2],"format":".2f","labelOverlap":false,"labelBound":false}},"x2":{"field":"x2"},"y2":{"field":"y2"}}},
{"data":{"values":[{"x":371.9,"y":1847.3}]},"mark":{"type":"point","shape":"M0,-1L0.75,0.9L-0.75,0.9Z","size":225,"angle":18,"filled":true,"fill":"#22b14c","opacity":1,"strokeWidth":0},
"encoding":{"x":{"field":"x","type":"quantitative","axis":null},"y":{"field":"y","type":"quantitative","axis":{"orient":"right","values":[1905.8,1895.3,1885.1,1874.6,1864.1,1853.6,1843.1,1832.6,1822.1,1811.6,1801.1,1790.9,1780.4,1769.9,1759.4,1748.9,1738.4,1727.9,1717.4,1706.9,1696.7,1686.2],"format":".2f","labelOverlap":false,"labelBound":false}}}},
{"data":{"name":"levels"},"mark":{"type":"point","shape":"M-1,-0.27H1V0.27H-1Z","size":1681,"filled":true,"fill":"#ff0000","opacity":1,"strokeWidth":0},
"encoding":{"x":{"datum":472.4,"type":"quantitative","axis":null},"y":{"field":"p","type":"quantitative","axis":{"orient":"right","values":[1905.8,1895.3,1885.1,1874.6,1864.1,1853.6,1843.1,1832.6,1822.1,1811.6,1801.1,1790.9,1780.4,1769.9,1759.4,1748.9,1738.4,1727.9,1717.4,1706.9,1696.7,1686.2],"format":".2f","labelOverlap":false,"labelBound":false}}}},
{"data":{"name":"levels"},"mark":{"type":"text","color":"#ffffff","fontSize":9.5,"font":"Liberation Sans","align":"center","baseline":"middle"},
"encoding":{"x":{"datum":472.4,"type":"quantitative","axis":null},"y":{"field":"p","type":"quantitative","axis":{"orient":"right","values":[1905.8,1895.3,1885.1,1874.6,1864.1,1853.6,1843.1,1832.6,1822.1,1811.6,1801.1,1790.9,1780.4,1769.9,1759.4,1748.9,1738.4,1727.9,1717.4,1706.9,1696.7,1686.2],"format":".2f","labelOverlap":false,"labelBound":false}},"text":{"field":"p","format":".2f"}}},
{"data":{"values":[{"t":"▼"}]},"mark":{"type":"text","color":"#7a7a7a","fontSize":7,"align":"center","baseline":"middle"},
"encoding":{"x":{"datum":1.2,"type":"quantitative","axis":null},"y":{"datum":1914.8,"type":"quantitative","axis":{"orient":"right","values":[1905.8,1895.3,1885.1,1874.6,1864.1,1853.6,1843.1,1832.6,1822.1,1811.6,1801.1,1790.9,1780.4,1769.9,1759.4,1748.9,1738.4,1727.9,1717.4,1706.9,1696.7,1686.2],"format":".2f","labelOverlap":false,"labelBound":false}},"text":{"field":"t"}}},
{"data":{"values":[{"t":"XAUUSD,H4  1793.39 1796.32 1791.86 1793.55"}]},"mark":{"type":"text","color":"#808080","fontSize":9.5,"font":"Liberation Sans","align":"left","baseline":"middle"},
"encoding":{"x":{"datum":3.5,"type":"quantitative","axis":null},"y":{"datum":1914.8,"type":"quantitative","axis":{"orient":"right","values":[1905.8,1895.3,1885.1,1874.6,1864.1,1853.6,1843.1,1832.6,1822.1,1811.6,1801.1,1790.9,1780.4,1769.9,1759.4,1748.9,1738.4,1727.9,1717.4,1706.9,1696.7,1686.2],"format":".2f","labelOverlap":false,"labelBound":false}},"text":{"field":"t"}}}
]},
{"width":1869,"height":134,
"layer":[
{"data":{"name":"bars"},"mark":{"type":"rule","strokeWidth":1},
"encoding":{"x":{"field":"i","type":"quantitative","scale":{"domain":[-0.25,467],"nice":false,"zero":false},
"axis":{"orient":"bottom","values":[0,16,32,48,64,80,96,112,128,144,160,176,192,208,224,240,256,272,288,304,320,336,352],"labelAlign":"left","labelBaseline":"top","labelDx":2,"labelPadding":2,"tickSize":4,"labelOverlap":false,
"labelExpr":"['6 Sep 2021','9 Sep 00:00','13 Sep 05:00','15 Sep 13:00','20 Sep 00:00','22 Sep 05:00','24 Sep 21:00','29 Sep 01:00','1 Oct 17:00','6 Oct 05:00','8 Oct 13:00','13 Oct 05:00','15 Oct 21:00','20 Oct 13:00','25 Oct 05:00','27 Oct 21:00','1 Nov 13:00','4 Nov 05:00','8 Nov 21:00','11 Nov 13:00','16 Nov 05:00','18 Nov 21:00','23 Nov 13:00'][round(datum.value/16)]"}},
"y":{"field":"d","type":"quantitative","scale":{"domain":[-20.5,18.03],"nice":false,"zero":false},
"axis":{"orient":"right","values":[15.876,0,-19.22],"labelOverlap":false,"labelExpr":"datum.value > 1 ? '15.876' : (datum.value < -1 ? '-19.22' : '0.00')"}},
"y2":{"datum":0},
"color":{"condition":{"test":"datum.d >= 0","value":"#2e9e2e"},"value":"#ff0000"}}},
{"data":{"name":"mline"},"mark":{"type":"line","stroke":"#0000ff","strokeWidth":1},
"encoding":{"x":{"field":"i","type":"quantitative"},"y":{"field":"m","type":"quantitative"}}},
{"data":{"name":"sline"},"mark":{"type":"line","stroke":"#ff0000","strokeWidth":1},
"encoding":{"x":{"field":"i","type":"quantitative"},"y":{"field":"s","type":"quantitative"}}},
{"data":{"values":[{"t":"MACD(12,26,9) -16.913 -14.917 0.000 -1.996"}]},"mark":{"type":"text","color":"#505050","fontSize":9.5,"font":"Liberation Sans","align":"left","baseline":"middle"},
"encoding":{"x":{"datum":0.6,"type":"quantitative"},"y":{"datum":15.4,"type":"quantitative"},"text":{"field":"t"}}}
]}
]
}
